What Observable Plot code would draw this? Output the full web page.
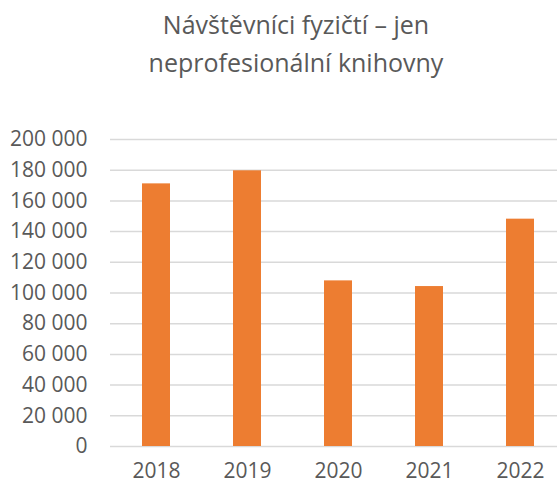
<!DOCTYPE html>
<html>
<head>
<meta charset="utf-8">
<script src="https://cdn.jsdelivr.net/npm/d3@7"></script>
<script src="https://cdn.jsdelivr.net/npm/@observablehq/plot@0.6"></script>
<style>
  html, body { margin: 0; padding: 0; background: #fff; overflow: hidden; }
  #wrap { width: 592px; }
  #title {
    box-sizing: border-box;
    height: 100px;
    padding-top: 5px;
    text-align: center;
    font-family: "Open Sans", sans-serif;
    font-size: 25px;
    line-height: 38px;
    color: #595959;
  }
</style>
</head>
<body>
<div id="wrap">
  <div id="title">Návštěvníci fyzičtí – jen<br>neprofesionální knihovny</div>
  <div id="chart"></div>
</div>
<script>
const years = ["2018", "2019", "2020", "2021", "2022"];
const visitors = [171100, 179600, 107900, 104200, 148100];
const yTicks = [0, 20000, 40000, 60000, 80000, 100000, 120000, 140000, 160000, 180000, 200000];

const data = years.map((y, i) => ({year: y, value: visitors[i]}));
const fmt = d => d3.format(",")(d).replace(/,/g, "\u00a0");

const chart = Plot.plot({
  width: 592,
  height: 386,
  marginLeft: 110,
  marginRight: 25,
  marginTop: 39,
  marginBottom: 40,
  style: {fontFamily: "'Open Sans', sans-serif", fontSize: "21px", color: "#595959", background: "#fff"},
  x: {domain: years, paddingInner: 0.69, paddingOuter: 0.345, label: null},
  y: {domain: [0, 200000], label: null},
  marks: [
    Plot.ruleY(yTicks, {stroke: "#d9d9d9", strokeWidth: 1.5}),
    Plot.barY(data, {x: "year", y: "value", fill: "#ED7D31"}),
    Plot.axisY(yTicks, {tickSize: 0, tickPadding: 23, tickFormat: fmt, fill: "#595959", fontSize: 21, label: null}),
    Plot.axisX({tickSize: 0, tickPadding: 17, fill: "#595959", fontSize: 21, label: null})
  ]
});
document.getElementById("chart").appendChild(chart);
</script>
</body>
</html>
